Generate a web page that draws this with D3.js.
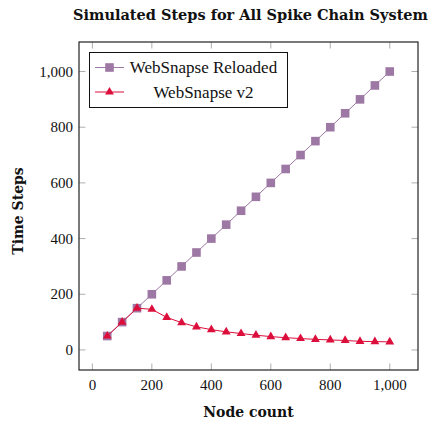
<!DOCTYPE html>
<html><head><meta charset="utf-8">
<script src="https://cdn.jsdelivr.net/npm/d3@7"></script>
<style>body{margin:0;background:#fff}svg{display:block}text{font-family:"Liberation Serif","DejaVu Serif",serif;fill:#111}.b{font-family:"DejaVu Serif",serif;font-weight:bold}</style>
</head><body><div id="c"></div>
<script>
const nodes = [50,100,150,200,250,300,350,400,450,500,550,600,650,700,750,800,850,900,950,1000];
const reloaded = [50,100,150,200,250,300,350,400,450,500,550,600,650,700,750,800,850,900,950,1000];
const v2 = [50,100,150,146,117,98,83,73,65,59,53,48,44,41,38,36,34,31,30,29];
const xTicks = [0,200,400,600,800,1000];
const yTicks = [0,200,400,600,800,1000];
const seriesNames = ["WebSnapse Reloaded","WebSnapse v2"];
const colors = ["#9e78a4","#dc0f3c"];

const W=430,H=424;
const L=79,R=418,T=42,B=370;
const svg=d3.select("#c").append("svg").attr("width",W).attr("height",H);
const x=d3.scaleLinear().domain([-45,1095]).range([L,R]);
const y=d3.scaleLinear().domain([-72,1106]).range([B,T]);
const fmt=d3.format(",");

// ticks (inside, mirrored)
const tl=6.5;
const g=svg.append("g").attr("stroke","#999").attr("stroke-width",0.8);
xTicks.forEach(t=>{
  g.append("line").attr("x1",x(t)).attr("x2",x(t)).attr("y1",B).attr("y2",B-tl);
  g.append("line").attr("x1",x(t)).attr("x2",x(t)).attr("y1",T).attr("y2",T+tl);
});
yTicks.forEach(t=>{
  g.append("line").attr("y1",y(t)).attr("y2",y(t)).attr("x1",L).attr("x2",L+tl);
  g.append("line").attr("y1",y(t)).attr("y2",y(t)).attr("x1",R).attr("x2",R-tl);
});
svg.append("rect").attr("x",L).attr("y",T).attr("width",R-L).attr("height",B-T)
  .attr("fill","none").attr("stroke","#222").attr("stroke-width",1.2);

svg.append("g").selectAll("text").data(xTicks).join("text")
  .attr("x",d=>x(d)).attr("y",B+20).attr("text-anchor","middle").attr("font-size",15).text(d=>fmt(d));
svg.append("g").selectAll("text").data(yTicks).join("text")
  .attr("x",L-6).attr("y",d=>y(d)+5).attr("text-anchor","end").attr("font-size",15).text(d=>fmt(d));

// lines
const line=d3.line().x(d=>x(d[0])).y(d=>y(d[1]));
const d1=nodes.map((n,i)=>[n,reloaded[i]]);
const d2=nodes.map((n,i)=>[n,v2[i]]);
svg.append("path").attr("d",line(d1)).attr("fill","none").attr("stroke",colors[0]).attr("stroke-width",1);
svg.append("g").selectAll("rect").data(d1).join("rect")
  .attr("x",d=>x(d[0])-4.3).attr("y",d=>y(d[1])-4.3).attr("width",8.6).attr("height",8.6).attr("fill",colors[0]);
svg.append("path").attr("d",line(d2)).attr("fill","none").attr("stroke",colors[1]).attr("stroke-width",1);
const tri=d3.symbol().type(d3.symbolTriangle).size(34);
svg.append("g").selectAll("path").data(d2).join("path")
  .attr("transform",d=>`translate(${x(d[0])},${y(d[1])})`).attr("d",tri).attr("fill",colors[1]);

// legend
svg.append("rect").attr("x",89.5).attr("y",52.5).attr("width",198).attr("height",55)
  .attr("fill","#fff").attr("stroke","#111").attr("stroke-width",1);
const ly=[67.5,92];
ly.forEach((yy,i)=>{
  svg.append("line").attr("x1",95).attr("x2",124).attr("y1",yy).attr("y2",yy).attr("stroke",colors[i]).attr("stroke-width",1);
  if(i===0) svg.append("rect").attr("x",109.5-4.3).attr("y",yy-4.3).attr("width",8.6).attr("height",8.6).attr("fill",colors[0]);
  else svg.append("path").attr("transform",`translate(109.5,${yy})`).attr("d",tri).attr("fill",colors[1]);
  svg.append("text").attr("x",203.5).attr("y",yy+5.5).attr("text-anchor","middle").attr("font-size",17).text(seriesNames[i]);
});

// labels
svg.append("text").attr("class","b").attr("x",248.5).attr("y",417).attr("text-anchor","middle").attr("font-size",14).text("Node count");
svg.append("text").attr("class","b").attr("transform","translate(22.5,211) rotate(-90)").attr("text-anchor","middle").attr("font-size",14).text("Time Steps");
svg.append("text").attr("class","b").attr("x",250.5).attr("y",20).attr("text-anchor","middle").attr("font-size",14.5).text("Simulated Steps for All Spike Chain System");
</script></body></html>
